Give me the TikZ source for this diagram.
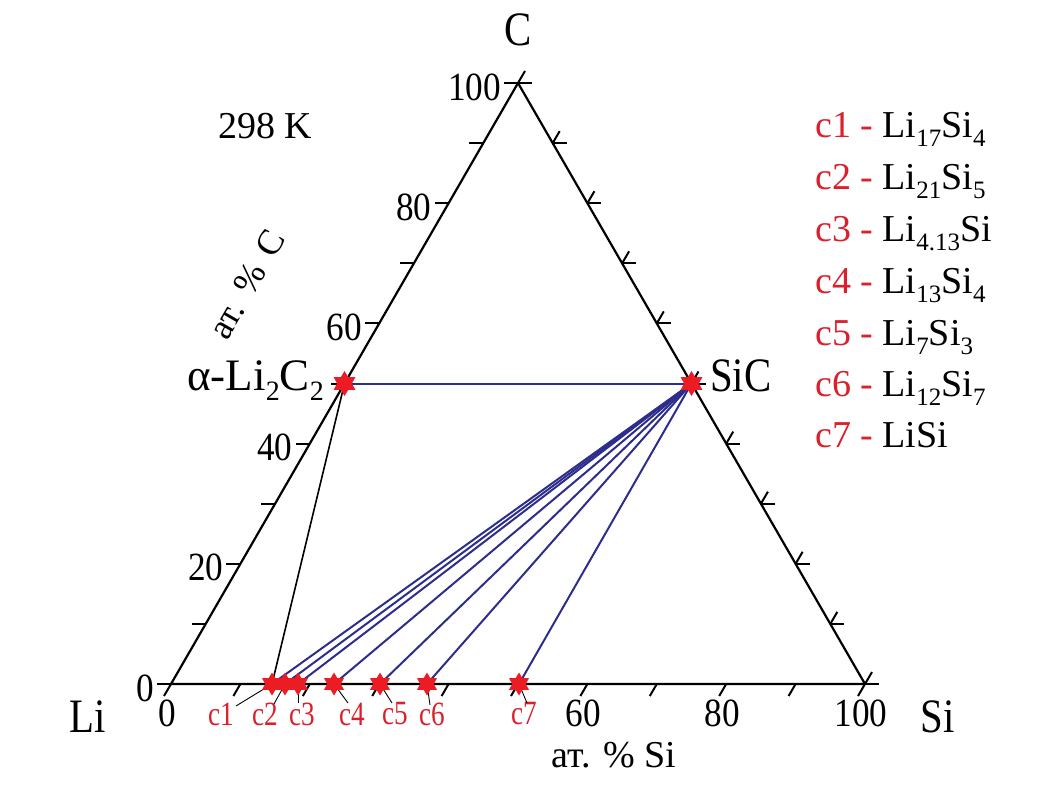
\documentclass[tikz,border=0pt]{standalone}
\usepackage{fontspec}
\setmainfont{Liberation Serif}
\usetikzlibrary{shapes.geometric,calc}
\definecolor{sred}{RGB}{236,28,36}
\definecolor{tred}{RGB}{218,32,44}
\definecolor{tblue}{RGB}{45,45,140}
\newcommand\fs[1]{\fontsize{#1}{#1}\selectfont}
\newcommand\sbs[1]{\raisebox{-9pt}{\fs{25}#1}}
\newcommand\sbb[1]{\raisebox{-10pt}{\fs{28}#1}}
\newcommand\nrw[1]{\scalebox{0.88}[1]{#1}}
\newcommand\cnrw[1]{\scalebox{0.8}[1]{#1}}
\newcommand\bnrw[1]{\scalebox{0.85}[1]{#1}}
\begin{document}
\begin{tikzpicture}[x=1pt,y=-1pt,
  edge/.style={line width=2.2pt, line join=round},
  tickln/.style={line width=2pt},
  tie/.style={line width=2pt, tblue},
  blk/.style={line width=1.6pt, black},
  lead/.style={line width=0.9pt, black},
  star6/.style={star, star points=6, star point ratio=1.7, fill=sred, draw=none, minimum size=25pt, inner sep=0pt},
  num/.style={font=\fs{40}, inner sep=0pt},
  big/.style={font=\fs{48}, inner sep=0pt},
  clab/.style={font=\fs{34}, text=tred, inner sep=0pt},
  leg/.style={font=\fs{38}, inner sep=0pt, anchor=base west},
]
\useasboundingbox (0,0) rectangle (1050,787);
% corners
\coordinate (Li) at (171,684);
\coordinate (Si) at (865,684);
\coordinate (C) at (518,83);
% triangle
\draw[edge] (Li) -- (Si) -- (C) -- cycle;
% ticks
\foreach \k in {0,...,10}{
  \draw[tickln] ($(Li)!{\k/10}!(C)$) -- ++(-14,0);
  \draw[tickln] ($(Li)!{\k/10}!(Si)$) -- ++(-7,12);
  \draw[tickln] ($(Si)!{\k/10}!(C)$) -- ++(14,0);
  \draw[tickln] ($(Si)!{\k/10}!(C)$) -- ++(7,-12);
}
% left axis numbers
\foreach \v/\k in {0/0,20/0.2,40/0.4,60/0.6,80/0.8,100/1}{
  \node[num, anchor=east] (ln\v) at ($(Li)!\k!(C)+(-17,4)$) {\nrw{\v}};
}
% bottom axis numbers
\foreach \v/\k in {0/0,60/0.6,80/0.8,100/1}{
  \node[num] (bn\v) at ($(Li)!\k!(Si)+(-4,29)$) {\nrw{\v}};
}
% corner labels
\node[big] (lLi) at (88,717) {\bnrw{Li}};
\node[big] (lSi) at (938,717) {\bnrw{Si}};
\node[big] (lC) at (518,30) {\bnrw{C}};
\node[font=\fs{38}, inner sep=0pt] (temp) at (265,126) {298 K};
\node[font=\fs{38}, inner sep=0pt] (axSi) at (614,755) {ат. \% Si};
\node[font=\fs{36}, inner sep=0pt, rotate=60] (axC) at (247,284) {ат.\hspace{14pt}\%\hspace{14pt}C};
% phase points
\coordinate (pa) at ($(Li)!0.5!(C)$);
\coordinate (pb) at ($(Si)!0.5!(C)$);
\coordinate (p1) at (272,684);
\coordinate (p2) at (285,684);
\coordinate (p3) at (298,684);
\coordinate (p4) at (334,684);
\coordinate (p5) at (380,684);
\coordinate (p6) at (427,684);
\coordinate (p7) at (519,684);
% tie lines
\draw[tie] (pa) -- (pb);
\draw[blk] (pa) -- (p1);
\foreach \i in {1,...,7}{
  \draw[tie] (pb) -- (p\i);
}
% c labels
\node[clab] (c1) at (221,714) {\cnrw{c1}};
\node[clab] (c2) at (265,714) {\cnrw{c2}};
\node[clab] (c3) at (302,714) {\cnrw{c3}};
\node[clab] (c4) at (352,714) {\cnrw{c4}};
\node[clab] (c5) at (395,714) {\cnrw{c5}};
\node[clab] (c6) at (432,714) {\cnrw{c6}};
\node[clab] (c7) at (524,714) {\cnrw{c7}};
\coordinate (l1) at (236,706);
\coordinate (l2) at (274,704);
\coordinate (l3) at (298,703);
\coordinate (l4) at (348,703);
\coordinate (l5) at (392,703);
\coordinate (l6) at (430,705);
\coordinate (l7) at (527,703);
\foreach \i in {1,...,7}{
  \draw[lead] (l\i) -- (p\i);
}
% stars
\node[star6] (sa) at (pa) {};
\node[star6] (sb) at (pb) {};
\foreach \i in {1,...,7}{
  \node[star6, minimum size=23pt] (s\i) at (p\i) {};
}
% phase labels
\node[font=\fs{45}, inner sep=0pt, anchor=base east] (lLi2C2) at (324,390) {α-Li\sbb{2}C\sbb{2}};
\node[big, anchor=base west] (lSiC) at (710,391) {\bnrw{SiC}};
% legend
\node[leg] (g1) at (815,137) {\textcolor{tred}{c1 -} Li\sbs{17}Si\sbs{4}};
\node[leg] (g2) at (815,189) {\textcolor{tred}{c2 -} Li\sbs{21}Si\sbs{5}};
\node[leg] (g3) at (815,241) {\textcolor{tred}{c3 -} Li\sbs{4.13}Si};
\node[leg] (g4) at (815,293) {\textcolor{tred}{c4 -} Li\sbs{13}Si\sbs{4}};
\node[leg] (g5) at (815,345) {\textcolor{tred}{c5 -} Li\sbs{7}Si\sbs{3}};
\node[leg] (g6) at (815,396) {\textcolor{tred}{c6 -} Li\sbs{12}Si\sbs{7}};
\node[leg] (g7) at (815,447) {\textcolor{tred}{c7 -} LiSi};
\end{tikzpicture}
\end{document}
